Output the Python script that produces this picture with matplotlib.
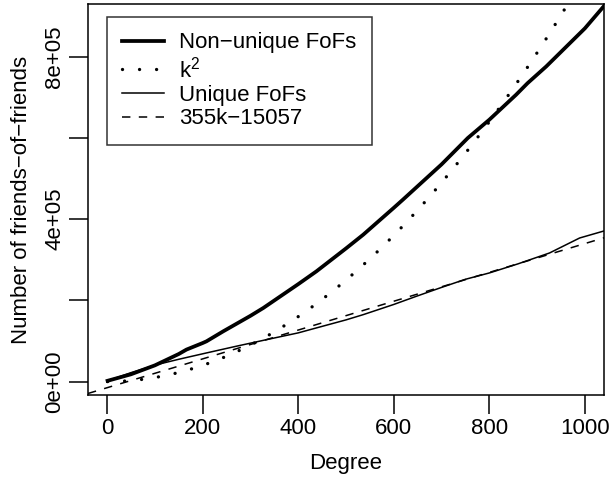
import matplotlib
matplotlib.use("Agg")
import matplotlib.pyplot as plt
import numpy as np

nonunique_k = [1, 50, 76, 100, 150, 166, 200, 208, 243, 300, 327, 400, 438,
               500, 536, 600, 619, 700, 755, 800, 856, 880, 919, 1000, 1040]
nonunique_fof = [2000, 18000, 29500, 40000, 68000, 78800, 95000, 99200, 123800,
                 162000, 181400, 240000, 271500, 328000, 361800, 428000, 448000,
                 535000, 600000, 645000, 706500, 735000, 776100, 870000, 925000]

unique_k = [1, 50, 104, 150, 208, 270, 334, 400, 438, 500, 536, 600, 647,
            700, 750, 800, 860, 926, 989, 1040]
unique_fof = [2000, 22000, 41800, 55000, 70600, 87000, 103400, 120000, 132200,
              152000, 164900, 190000, 210000, 232000, 252000, 267600, 290000,
              316800, 353700, 371000]

# fitted line 355k - 15057
fit_slope = 355
fit_intercept = -15057

k_grid = np.arange(1, 1001)

legend_labels = ["Non\u2212unique FoFs", "k$^2$", "Unique FoFs", "355k\u221215057"]

plt.rcParams["font.family"] = ["Liberation Sans", "DejaVu Sans"]
plt.rcParams["mathtext.fontset"] = "custom"
plt.rcParams["mathtext.rm"] = "Liberation Sans"
plt.rcParams["mathtext.it"] = "Liberation Sans"

fs = 16

fig = plt.figure(figsize=(6.1, 4.93), dpi=100)
ax = fig.add_axes([88 / 610, 1 - 395 / 493, (604 - 88) / 610, (395 - 4) / 493])

ax.plot(nonunique_k, nonunique_fof, color="black", lw=2.7, label=legend_labels[0])
ax.plot(k_grid, k_grid ** 2, color="black", lw=2.4, linestyle=(0, (0.01, 5.1)),
        dash_capstyle="round", label=legend_labels[1])
ax.plot(unique_k, unique_fof, color="black", lw=1.1, label=legend_labels[2])
ax.axline((0, fit_intercept), slope=fit_slope, color="black", lw=1.1,
          linestyle=(0, (5.5, 5.5)), label=legend_labels[3])

ax.set_xlim(-40, 1040)
ax.set_ylim(-33000, 930000)

ax.set_xticks([0, 200, 400, 600, 800, 1000])
ax.set_yticks([0, 200000, 400000, 600000, 800000])
ax.set_yticklabels(["0e+00", "", "4e+05", "", "8e+05"], rotation=90, va="center")

for s in ax.spines.values():
    s.set_linewidth(1.1)
ax.tick_params(direction="out", length=13.5, width=1.1, labelsize=fs)
ax.tick_params(axis="x", pad=3)
ax.tick_params(axis="y", pad=3)

ax.set_xlabel("Degree", fontsize=fs, labelpad=10)
ax.set_ylabel("Number of friends\u2212of\u2212friends", fontsize=fs, labelpad=9)

leg = ax.legend(loc="upper left", bbox_to_anchor=(0.036, 0.967), fontsize=fs,
                frameon=True, fancybox=False, handlelength=1.9, handletextpad=0.65,
                labelspacing=0.12, borderpad=0.7, borderaxespad=0)
leg.get_frame().set_edgecolor("black")
leg.get_frame().set_linewidth(1.1)

fig.savefig("out.png", dpi=100)
